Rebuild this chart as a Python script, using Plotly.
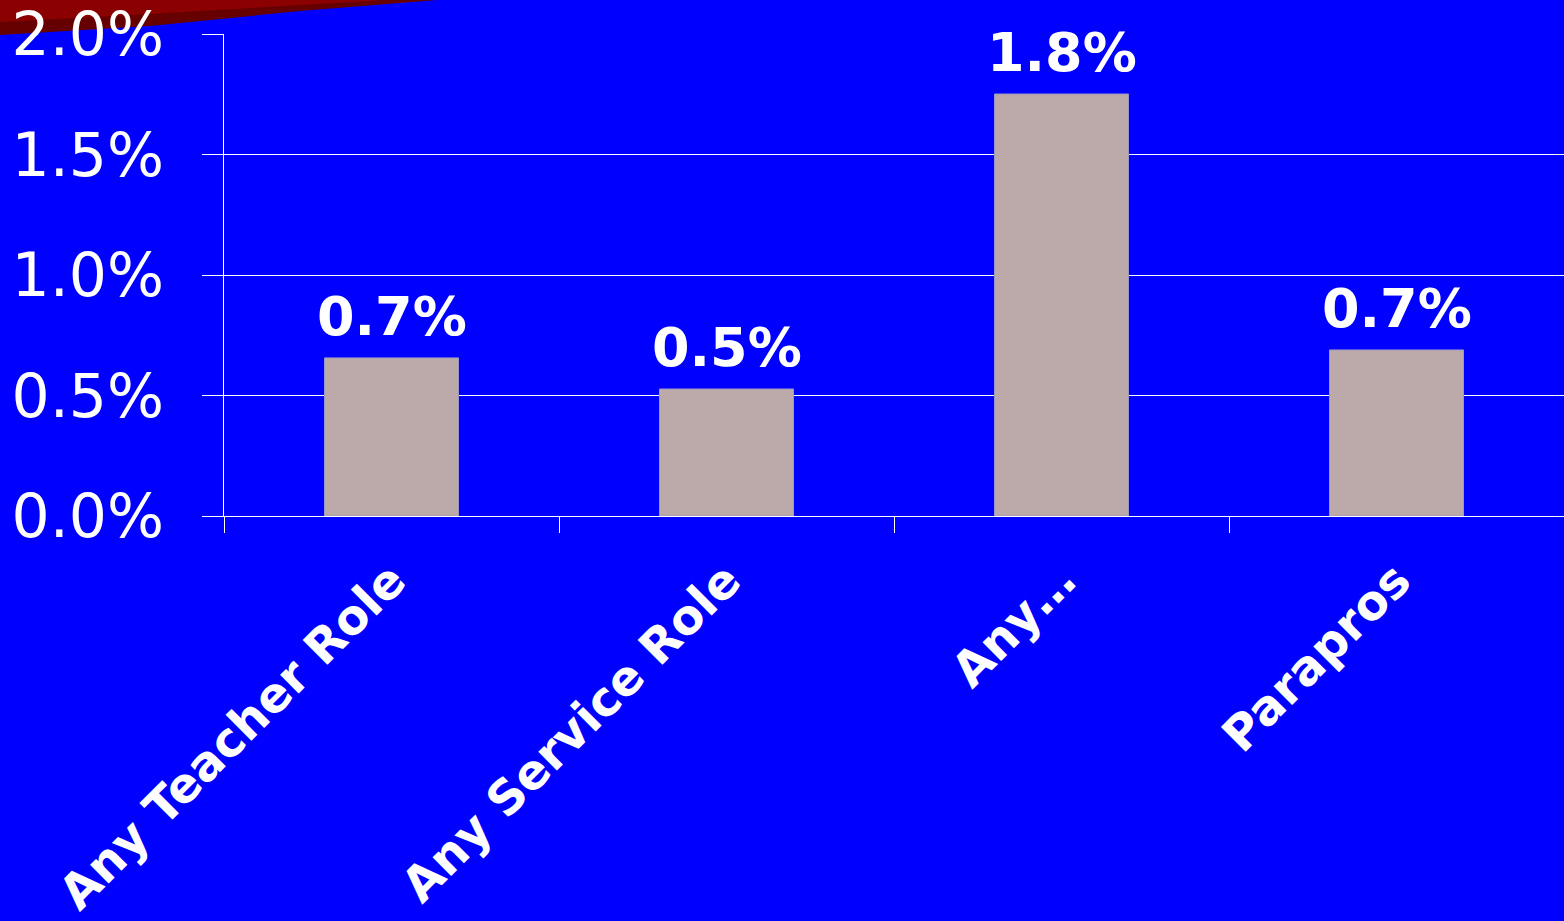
import plotly.graph_objects as go

# data
categories = ["Any Teacher Role", "Any Service Role", "Any…", "Parapros"]
values = [0.00656, 0.00527, 0.01751, 0.00689]
tick_vals = [0, 0.005, 0.01, 0.015, 0.02]
tick_text = ["0.0%", "0.5%", "1.0%", "1.5%", "2.0%"]

BG = "#0000FF"
BAR = "#BBAAA9"
FONT = "DejaVu Sans"

fig = go.Figure()

fig.add_trace(go.Bar(
    x=categories,
    y=values,
    marker=dict(color=BAR, line=dict(color="#9c96c8", width=1)),
    hoverinfo="x+y",
))

# value labels above bars
for cat, val in zip(categories, values):
    fig.add_annotation(
        x=cat, y=val,
        text=f"<b>{val * 100:.1f}%</b>",
        showarrow=False,
        yanchor="bottom",
        yshift=8,
        font=dict(family=FONT, size=54, color="white"),
    )

# red wedge in the top-left corner (slide decoration)
fig.add_shape(type="path", xref="paper", yref="paper", layer="below",
              path=("M -0.1672,1.0705 L -0.1672,0.9979 L -0.0552,1.0166 "
                    "L 0.0567,1.0477 L 0.1590,1.0705 Z"),
              fillcolor="#660000", line=dict(width=0))
fig.add_shape(type="path", xref="paper", yref="paper", layer="below",
              path=("M -0.1672,1.0705 L -0.1672,1.0249 L -0.0552,1.0415 "
                    "L 0.0567,1.0602 L 0.1187,1.0705 Z"),
              fillcolor="#8B0000", line=dict(width=0))

fig.update_layout(
    width=1564,
    height=921,
    margin=dict(l=224, r=0, t=34, b=405),
    paper_bgcolor=BG,
    plot_bgcolor=BG,
    showlegend=False,
    bargap=0.6,
    font=dict(family=FONT, color="white"),
    xaxis=dict(
        type="category",
        tickson="boundaries",
        ticks="outside",
        ticklen=16,
        tickwidth=1,
        tickcolor="white",
        showline=True,
        linecolor="white",
        linewidth=1,
        showgrid=False,
        tickangle=-45,
        tickfont=dict(family=FONT, size=48, color="white", weight="bold"),
        ticklabelstandoff=16,
    ),
    yaxis=dict(
        range=[0, 0.02],
        tickvals=tick_vals,
        ticktext=tick_text,
        ticks="outside",
        ticklen=21,
        tickcolor="white",
        showline=True,
        linecolor="white",
        linewidth=1,
        showgrid=True,
        gridcolor="white",
        gridwidth=1,
        zeroline=False,
        tickfont=dict(family=FONT, size=60, color="white"),
        ticklabelstandoff=26,
        ticklabeloverflow="allow",
    ),
)

# page has a default body margin; remove it so the chart fills the window
fig.write_html("out.html", config={"displayModeBar": False},
               post_script="document.body.style.margin='0';")
